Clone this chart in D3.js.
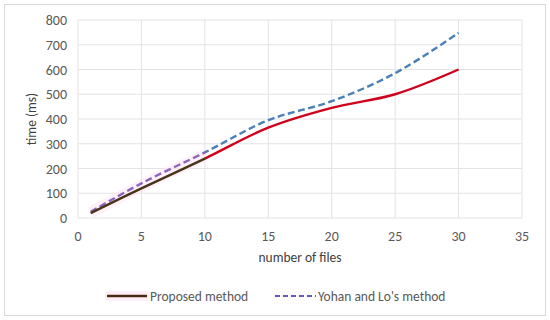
<!DOCTYPE html>
<html><head><meta charset="utf-8">
<script src="https://cdn.jsdelivr.net/npm/d3@7"></script>
<style>body{margin:0;background:#fff}svg{display:block}</style>
</head><body>
<script>
const xValues = [1, 5, 10, 15, 20, 25, 30];
const proposed = [20, 120, 240, 365, 445, 500, 600];
const yohan = [25, 140, 265, 395, 472, 585, 748];
const xTicks = [0, 5, 10, 15, 20, 25, 30, 35];
const yTicks = [0, 100, 200, 300, 400, 500, 600, 700, 800];
const seriesNames = ["Proposed method", "Yohan and Lo's method"];

const W = 550, H = 320;
const svg = d3.select("body").append("svg").attr("width", W).attr("height", H);
const font = "Calibri, Carlito, 'Open Sans', sans-serif";
svg.append("rect").attr("x", 4.5).attr("y", 4.5).attr("width", 541).attr("height", 311)
  .attr("fill", "#fff").attr("stroke", "#d9d9d9");

const x = d3.scaleLinear().domain([0, 35]).range([78, 522]);
const y = d3.scaleLinear().domain([0, 800]).range([218, 20]);

const g = svg.append("g");
g.selectAll("line.v").data(xTicks).join("line")
  .attr("x1", d => x(d)).attr("x2", d => x(d)).attr("y1", y(0)).attr("y2", y(800))
  .attr("stroke", "#e3e3e3").attr("stroke-width", 1);
g.selectAll("line.h").data(yTicks).join("line")
  .attr("x1", x(0)).attr("x2", x(35)).attr("y1", d => y(d)).attr("y2", d => y(d))
  .attr("stroke", "#e3e3e3").attr("stroke-width", 1);

g.selectAll("text.yt").data(yTicks).join("text")
  .attr("x", 67).attr("y", d => y(d) + 5).attr("text-anchor", "end")
  .attr("font-family", font).attr("font-size", 14).attr("fill", "#595959").text(d => d);
g.selectAll("text.xt").data(xTicks).join("text")
  .attr("x", d => x(d)).attr("y", 241).attr("text-anchor", "middle")
  .attr("font-family", font).attr("font-size", 14).attr("fill", "#595959").text(d => d);

svg.append("text").attr("x", 300).attr("y", 262).attr("text-anchor", "middle")
  .attr("font-family", font).attr("font-size", 13.5).attr("fill", "#404040").text("number of files");
svg.append("text").attr("transform", "translate(36,119) rotate(-90)").attr("text-anchor", "middle")
  .attr("font-family", font).attr("font-size", 13.5).attr("fill", "#404040").text("time (ms)");

const defs = svg.append("defs");
function grad(id, c1, c2) {
  const lg = defs.append("linearGradient").attr("id", id).attr("gradientUnits", "userSpaceOnUse")
    .attr("x1", x(0)).attr("x2", x(35)).attr("y1", 0).attr("y2", 0);
  const split = (x(10) - x(0)) / (x(35) - x(0));
  lg.append("stop").attr("offset", 0).attr("stop-color", c1);
  lg.append("stop").attr("offset", split).attr("stop-color", c1);
  lg.append("stop").attr("offset", split).attr("stop-color", c2);
  lg.append("stop").attr("offset", 1).attr("stop-color", c2);
}
grad("gp", "#4a3418", "#d0001c");
grad("gy", "#8a66bf", "#4a80b8");

const line = d3.line().x(d => x(d[0])).y(d => y(d[1])).curve(d3.curveCatmullRom.alpha(0.5));
const early = xValues.map((v, i) => [v, (proposed[i] + yohan[i]) / 2]).filter(d => d[0] <= 10);
svg.append("path").datum(early).attr("d", line).attr("fill", "none")
  .attr("stroke", "#ffe4f4").attr("stroke-width", 12).attr("opacity", 0.5);
svg.append("path").datum(xValues.map((v, i) => [v, yohan[i]]))
  .attr("d", line).attr("fill", "none").attr("stroke", "url(#gy)").attr("stroke-width", 2.4)
  .attr("stroke-dasharray", "7,3.5");
svg.append("path").datum(xValues.map((v, i) => [v, proposed[i]]))
  .attr("d", line).attr("fill", "none").attr("stroke", "url(#gp)").attr("stroke-width", 2.4);

// legend
svg.append("rect").attr("x", 105).attr("y", 291).attr("width", 44).attr("height", 10).attr("fill", "#fff0f8");
svg.append("line").attr("x1", 107).attr("x2", 147).attr("y1", 296).attr("y2", 296)
  .attr("stroke", "#4a2a10").attr("stroke-width", 2.4);
svg.append("text").attr("x", 150).attr("y", 300.5).attr("font-family", font).attr("font-size", 13.5)
  .attr("fill", "#595959").text(seriesNames[0]);
svg.append("line").attr("x1", 275).attr("x2", 316).attr("y1", 296).attr("y2", 296)
  .attr("stroke", "#6258c0").attr("stroke-width", 2).attr("stroke-dasharray", "5,3");
svg.append("text").attr("x", 318).attr("y", 300.5).attr("font-family", font).attr("font-size", 13.5)
  .attr("fill", "#595959").text(seriesNames[1]);
</script>
</body></html>
